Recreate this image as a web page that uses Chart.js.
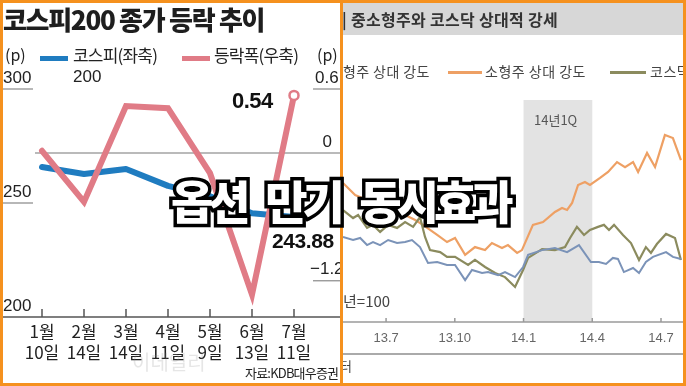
<!DOCTYPE html>
<html><head><meta charset="utf-8">
<script src="https://cdn.jsdelivr.net/npm/chart.js@4.4.0/dist/chart.umd.min.js"></script>
<style>
html,body{margin:0;padding:0;background:#fff;}
#wrap{position:relative;width:686px;height:386px;overflow:hidden;background:#fff;font-family:"Noto Sans CJK KR","Noto Sans",sans-serif;}
.t{position:absolute;white-space:pre;line-height:1;}
canvas{position:absolute;left:0;top:0;}
</style></head>
<body><div id="wrap">
<div style="position:absolute;left:0;top:0;width:340px;height:386px;"><canvas id="c1" width="340" height="386"></canvas></div>
<div style="position:absolute;left:343px;top:0;width:340px;height:386px;"><canvas id="c2" width="340" height="386"></canvas></div>

<!-- left panel texts -->
<div class="t" style="left:3px;top:6px;font-size:26px;font-weight:900;letter-spacing:-1.3px;color:#1e1e1e;">코스피200 종가 등락 추이</div>
<div class="t" style="left:5px;top:46px;font-size:16px;color:#222;">(p)</div>
<div style="position:absolute;left:40px;top:56px;width:28px;height:5px;background:#1f7cc0;"></div>
<div class="t" style="left:73px;top:46px;font-size:17px;letter-spacing:-0.8px;color:#222;">코스피(좌축)</div>
<div class="t" style="left:73px;top:68px;font-size:17px;color:#222;font-family:'Liberation Sans',sans-serif;">200</div>
<div style="position:absolute;left:182px;top:56px;width:28px;height:5px;background:#e07b86;"></div>
<div class="t" style="left:214px;top:46px;font-size:17px;letter-spacing:-0.8px;color:#222;">등락폭(우축)</div>
<div class="t" style="left:317px;top:46px;font-size:16px;color:#222;">(p)</div>
<div class="t" style="left:232px;top:90px;font-size:22px;font-weight:bold;letter-spacing:-0.5px;color:#111;font-family:'Liberation Sans',sans-serif;">0.54</div>
<div class="t" style="left:272px;top:230px;font-size:21px;font-weight:bold;letter-spacing:-0.4px;color:#111;font-family:'Liberation Sans',sans-serif;">243.88</div>
<div class="t" style="left:245px;top:366px;font-size:13px;letter-spacing:-0.8px;color:#222;">자료:KDB대우증권</div>
<div class="t" style="left:132px;top:352px;font-size:20px;color:rgba(140,140,140,0.22);">이데일리</div>

<!-- right panel texts -->
<div style="position:absolute;left:343px;top:3px;width:340px;height:32px;background:#d7d7d7;"></div>
<div class="t" style="left:342px;top:11px;font-size:16px;font-weight:bold;letter-spacing:0.3px;color:#333;">| 중소형주와 코스닥 상대적 강세</div>
<div class="t" style="left:343px;top:64px;font-size:14px;letter-spacing:0.4px;color:#444;">형주 상대 강도</div>
<div style="position:absolute;left:448px;top:71px;width:34px;height:3px;background:#eea064;"></div>
<div class="t" style="left:485px;top:64px;font-size:14px;letter-spacing:0.5px;color:#444;">소형주 상대 강도</div>
<div style="position:absolute;left:610px;top:71px;width:36px;height:3px;background:#8b8b5e;"></div>
<div class="t" style="left:650px;top:64px;font-size:14px;letter-spacing:0.5px;color:#444;">코스닥 상대 강도</div>
<div class="t" style="left:534px;top:113px;font-size:13px;color:#555;">14년1Q</div>
<div class="t" style="left:343px;top:293px;font-size:15px;color:#444;">년=100</div>
<div class="t" style="left:340px;top:359px;font-size:13px;color:#444;">터</div>

<!-- frame -->
<div style="position:absolute;left:0;top:0;width:680px;height:380px;border:3px solid #f5911e;pointer-events:none;"></div>
<div style="position:absolute;left:340px;top:0;width:3px;height:386px;background:#f5911e;"></div>

<!-- overlay headline -->
<div class="t" style="left:171px;top:176px;font-size:46px;font-weight:900;letter-spacing:-5px;word-spacing:14px;color:#fff;-webkit-text-stroke:7px #000;paint-order:stroke fill;">옵션 만기 동시효과</div>
</div>
<script>
// ---------- Left chart data ----------
const leftDates = [["1월","10일"],["2월","14일"],["3월","14일"],["4월","11일"],["5월","9일"],["6월","13일"],["7월","11일"]];
const kospi200 = [265.8, 262.7, 264.9, 257.5, 253.0, 245.5, 243.88];
const changePts = [0.02, -0.46, 0.44, 0.42, -0.19, -1.33, 0.54];
const leftAxisTicks = [300, 250, 200];
const rightAxisTicks = ["0.6", "0", "−1.2"];
const rightAxisValues = [0.6, 0, -1.2];

// ---------- Right chart data (months since 2013.7, relative strength index) ----------
const rsTickMonths = [0, 3, 6, 9, 12];
const rsTickLabels = ["13.7", "13.10", "14.1", "14.4", "14.7"];
const q1Start = 6, q1End = 9;
const smallMonths = [-1.88,-1.35,-0.83,-0.26,0.31,0.83,1.27,1.61,2.23,2.66,3.01,3.45,3.88,4.32,4.62,5.06,5.32,5.72,5.93,6.41,6.85,7.37,7.68,7.90,8.12,8.38,8.68,8.90,9.34,9.69,10.08,10.43,10.78,11.00,11.39,11.74,12.17,12.52,12.87];
const smallIndex = [127.1,122.3,120.4,118.4,116.4,114.4,112.4,110.5,106.5,103.7,105.3,98.6,101.7,100.5,103.3,101.3,102.5,99.4,100.5,110.5,111.6,115.6,117.2,116.4,119.2,126.3,127.5,126.3,129.1,131.5,135.4,133.4,135.4,131.5,139.0,133.4,146.1,144.9,136.2];
const kosdaqMonths = [-1.88,-1.44,-1.22,-0.83,-0.57,-0.26,0.09,0.48,0.83,1.18,1.48,1.70,1.92,2.36,2.66,3.01,3.58,3.88,4.32,4.76,5.19,5.63,5.98,6.20,6.81,7.37,7.81,8.03,8.33,8.64,8.90,9.25,9.51,9.73,9.95,10.34,10.69,11.04,11.34,11.56,11.82,12.22,12.61,12.87];
const kosdaqIndex = [116.4,113.2,114.4,109.3,110.5,107.7,110.5,109.3,111.6,109.7,113.6,105.7,100.5,99.7,97.8,97.8,94.6,96.6,93.8,91.4,89.8,85.9,92.6,97.4,100.9,100.5,101.7,105.3,109.7,106.5,108.5,109.7,110.5,108.5,110.5,106.5,103.3,96.6,101.7,99.4,102.9,106.9,105.3,96.6];
const largeMonths = [-1.88,-1.44,-1.13,-0.83,-0.57,-0.26,0.09,0.48,0.83,1.13,1.48,1.83,2.23,2.66,3.01,3.45,3.75,4.19,4.45,4.89,5.19,5.63,5.98,6.20,6.81,7.37,7.90,8.42,8.94,9.29,9.60,9.90,10.12,10.38,10.78,11.04,11.34,11.65,12.22,12.52,12.87];
const largeIndex = [105.7,104.5,105.3,102.5,103.7,102.5,104.5,103.3,103.7,104.5,101.7,95.4,95.8,94.6,94.6,88.6,92.6,91.4,91.8,90.6,91.8,89.8,93.8,98.6,100.5,101.3,99.7,102.5,95.8,95.8,95.0,97.4,97.0,91.8,93.4,91.4,95.8,97.8,99.7,97.8,97.0];

const pair = (xs, ys) => xs.map((x, i) => ({x, y: ys[i]}));

// ---------- Left chart ----------
const leftDecor = {
  id: 'leftDecor',
  beforeDatasetsDraw(chart) {
    const {ctx, scales: {yR}} = chart;
    const y0 = yR.getPixelForValue(0);
    ctx.save();
    ctx.strokeStyle = '#a3a3a3'; ctx.lineWidth = 1.5;
    ctx.beginPath(); ctx.moveTo(35, y0); ctx.lineTo(chart.width, y0); ctx.stroke();
    ctx.restore();
  },
  afterDraw(chart) {
    const {ctx, scales: {x, yL, yR}} = chart;
    ctx.save();
    ctx.fillStyle = '#222';
    ctx.strokeStyle = '#888';
    ctx.lineWidth = 1.2;
    ctx.font = '17px "Liberation Sans", sans-serif';
    ctx.textBaseline = 'middle';
    leftAxisTicks.forEach(v => {
      const y = yL.getPixelForValue(v);
      ctx.textAlign = 'left';
      ctx.fillText(String(v), 3, y - 11);
      if (v !== 200) { ctx.beginPath(); ctx.moveTo(3, y); ctx.lineTo(33, y); ctx.stroke(); }
    });
    rightAxisValues.forEach((v, i) => {
      const y = yR.getPixelForValue(v);
      if (v === 0) { ctx.textAlign = 'right'; ctx.fillText(rightAxisTicks[i], 332, y - 11); return; }
      ctx.textAlign = 'left';
      ctx.fillText(rightAxisTicks[i], v > 0 ? 315 : 310, y - 11);
      ctx.beginPath(); ctx.moveTo(313, y); ctx.lineTo(chart.width, y); ctx.stroke();
    });
    const yb = yL.getPixelForValue(200);
    ctx.strokeStyle = '#555'; ctx.lineWidth = 1.5;
    ctx.beginPath(); ctx.moveTo(0, yb); ctx.lineTo(chart.width, yb); ctx.stroke();
    ctx.font = '17px "Noto Sans CJK KR", sans-serif';
    ctx.textAlign = 'center';
    chart.data.labels.forEach((lab, i) => {
      const px = x.getPixelForValue(i);
      ctx.beginPath(); ctx.moveTo(px, yb - 8); ctx.lineTo(px, yb); ctx.stroke();
      ctx.fillText(lab[0], px, yb + 15);
      ctx.fillText(lab[1], px, yb + 36);
    });
    ctx.restore();
  }
};

new Chart(document.getElementById('c1'), {
  type: 'line',
  data: {
    labels: leftDates,
    datasets: [
      { label: '등락폭(우축)', data: changePts, yAxisID: 'yR', borderColor: '#e07b86', borderWidth: 6,
        borderCapStyle: 'round', borderJoinStyle: 'miter', tension: 0,
        pointRadius: changePts.map((v, i) => i === changePts.length - 1 ? 4.5 : 0),
        pointBackgroundColor: '#fff', pointBorderColor: '#e07b86', pointBorderWidth: 2.5 },
      { label: '코스피200(좌축)', data: kospi200, yAxisID: 'yL', borderColor: '#1f7cc0', borderWidth: 6,
        borderCapStyle: 'round', borderJoinStyle: 'round', tension: 0, pointRadius: 0 }
    ]
  },
  options: {
    responsive: false, animation: false, devicePixelRatio: 1,
    layout: { padding: { left: 21, right: 25, top: 89, bottom: 69 } },
    plugins: { legend: { display: false }, tooltip: { enabled: false } },
    scales: {
      x: { type: 'category', offset: true, display: false },
      yL: { type: 'linear', position: 'left', min: 200, max: 300, display: false },
      yR: { type: 'linear', position: 'right', min: -1.54, max: 0.6, display: false }
    }
  },
  plugins: [leftDecor]
});

// ---------- Right chart ----------
const rightDecor = {
  id: 'rightDecor',
  beforeDatasetsDraw(chart) {
    const {ctx, chartArea: a, scales: {x}} = chart;
    ctx.save();
    ctx.fillStyle = '#e3e3e3';
    const x1 = x.getPixelForValue(q1Start), x2 = x.getPixelForValue(q1End);
    ctx.fillRect(x1, a.top, x2 - x1, a.bottom - a.top);
    ctx.restore();
  },
  afterDraw(chart) {
    const {ctx, chartArea: a, scales: {x}} = chart;
    ctx.save();
    ctx.strokeStyle = '#9a9a9a'; ctx.lineWidth = 1.5;
    ctx.beginPath(); ctx.moveTo(0, a.bottom); ctx.lineTo(chart.width, a.bottom); ctx.stroke();
    ctx.fillStyle = '#666';
    ctx.font = '13px "Liberation Sans", sans-serif';
    ctx.textAlign = 'center'; ctx.textBaseline = 'middle';
    rsTickMonths.forEach((m, i) => {
      const px = x.getPixelForValue(m);
      ctx.beginPath(); ctx.moveTo(px, a.bottom - 4); ctx.lineTo(px, a.bottom); ctx.stroke();
      ctx.fillText(rsTickLabels[i], px, a.bottom + 16);
    });
    ctx.strokeStyle = '#aaa'; ctx.lineWidth = 2;
    ctx.beginPath(); ctx.moveTo(0, a.bottom + 32); ctx.lineTo(chart.width, a.bottom + 32); ctx.stroke();
    ctx.restore();
  }
};

new Chart(document.getElementById('c2'), {
  type: 'line',
  data: {
    datasets: [
      { label: '대형주 상대 강도', data: pair(largeMonths, largeIndex), borderColor: '#7b93b8', borderWidth: 2, pointRadius: 0, tension: 0 },
      { label: '코스닥 상대 강도', data: pair(kosdaqMonths, kosdaqIndex), borderColor: '#8b8b5e', borderWidth: 2.2, pointRadius: 0, tension: 0 },
      { label: '소형주 상대 강도', data: pair(smallMonths, smallIndex), borderColor: '#eea064', borderWidth: 2.2, pointRadius: 0, tension: 0 }
    ]
  },
  options: {
    responsive: false, animation: false, devicePixelRatio: 1,
    layout: { padding: { left: 0, right: 0, top: 100, bottom: 64 } },
    plugins: { legend: { display: false }, tooltip: { enabled: false } },
    scales: {
      x: { type: 'linear', min: -1.88, max: 12.96, display: false },
      y: { type: 'linear', min: 72, max: 160, display: false }
    }
  },
  plugins: [rightDecor]
});
</script>
</body></html>
